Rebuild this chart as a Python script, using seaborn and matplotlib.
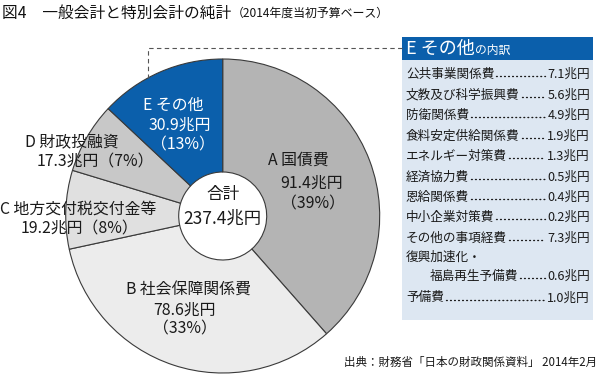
import matplotlib
matplotlib.use("Agg")
import matplotlib.pyplot as plt
import seaborn as sns
from matplotlib.patches import Rectangle

# data
letters = ["A", "B", "C", "D", "E"]
categories = ["国債費", "社会保障関係費", "地方交付税交付金等", "財政投融資", "その他"]
amounts = [91.4, 78.6, 19.2, 17.3, 30.9]
shares = [39, 33, 8, 7, 13]
total = 237.4

other_items = ["公共事業関係費", "文教及び科学振興費", "防衛関係費", "食料安定供給関係費",
               "エネルギー対策費", "経済協力費", "恩給関係費", "中小企業対策費",
               "その他の事項経費", "福島再生予備費", "予備費"]
other_values = [7.1, 5.6, 4.9, 1.9, 1.3, 0.5, 0.4, 0.2, 7.3, 0.6, 1.0]

sns.set_theme(style="white")
plt.rcParams["font.family"] = ["Noto Sans CJK JP", "DejaVu Sans"]

W, H = 600, 377
fig = plt.figure(figsize=(6, 3.77), dpi=100)
ax = fig.add_axes([0, 0, 1, 1])

def Y(y):
    return H - y

colors = ["#b4b4b4", "#ececec", "#e0e0e0", "#c8c8c8", "#0b5fab"]
cx, cy, r, r_in = 222.7, 216, 157, 44
ax.pie(amounts, colors=colors, startangle=90, counterclock=False,
       radius=r, center=(cx, Y(cy)),
       wedgeprops=dict(width=r - r_in, edgecolor="#3a3a3a", linewidth=0.8))
ax.set_xlim(0, W)
ax.set_ylim(0, H)
ax.set_aspect("equal")
ax.axis("off")

txt = "#1a1a1a"
fs = 11.4
# wedge labels
ax.text(298, Y(160), f"{letters[0]} {categories[0]}", ha="center", va="center", fontsize=fs, color=txt)
ax.text(312, Y(183), f"{amounts[0]}兆円", ha="center", va="center", fontsize=fs, color=txt)
ax.text(313, Y(204), f"（{shares[0]}%）", ha="center", va="center", fontsize=fs, color=txt)

ax.text(188, Y(290), f"{letters[1]} {categories[1]}", ha="center", va="center", fontsize=fs, color=txt)
ax.text(185, Y(310), f"{amounts[1]}兆円", ha="center", va="center", fontsize=fs, color=txt)
ax.text(185, Y(329), f"（{shares[1]}%）", ha="center", va="center", fontsize=fs, color=txt)

ax.text(78, Y(209), f"{letters[2]} {categories[2]}", ha="center", va="center", fontsize=fs, color=txt)
ax.text(79, Y(229), f"{amounts[2]}兆円（{shares[2]}%）", ha="center", va="center", fontsize=fs, color=txt)

ax.text(72, Y(142), f"{letters[3]} {categories[3]}", ha="center", va="center", fontsize=fs, color=txt)
ax.text(95, Y(162), f"{amounts[3]}兆円（{shares[3]}%）", ha="center", va="center", fontsize=fs, color=txt)

ax.text(173, Y(105), f"{letters[4]} {categories[4]}", ha="center", va="center", fontsize=fs, color="white")
ax.text(180, Y(125), f"{amounts[4]}兆円", ha="center", va="center", fontsize=fs, color="white")
ax.text(183, Y(145), f"（{shares[4]}%）", ha="center", va="center", fontsize=fs, color="white")

ax.text(cx, Y(194), "合計", ha="center", va="center", fontsize=12, color=txt)
ax.text(cx, Y(219), f"{total}兆円", ha="center", va="center", fontsize=12.5, color=txt)

# dashed connector
ax.plot([402, 148, 148], [Y(48), Y(48), Y(78)], color="#555555", lw=0.8, ls=(0, (4, 3)))

# breakdown box
bx0, bx1 = 402, 593
ax.add_patch(Rectangle((bx0, Y(320)), bx1 - bx0, 320 - 60, color="#dde7f2", lw=0))
ax.add_patch(Rectangle((bx0, Y(60)), bx1 - bx0, 23, color="#0b5fab", lw=0))
ax.text(406, Y(48.5), "E その他", ha="left", va="center", fontsize=13, color="white")
ax.text(475, Y(50), "の内訳", ha="left", va="center", fontsize=8.5, color="white")

row_y = [74, 95, 115, 136, 156, 177, 197, 217, 238, 276, 298]
ifs = 9.1
fig.canvas.draw()
rend = fig.canvas.get_renderer()
inv = ax.transData.inverted()
for name, val, yy in zip(other_items, other_values, row_y):
    lx = 406
    if name == "福島再生予備費":
        ax.text(lx, Y(257), "復興加速化・", ha="left", va="center", fontsize=ifs, color=txt)
        lx = 430
    t1 = ax.text(lx, Y(yy), name, ha="left", va="center", fontsize=ifs, color=txt)
    t2 = ax.text(590, Y(yy), f"{val}兆円", ha="right", va="center", fontsize=ifs, color=txt)
    e1 = inv.transform(t1.get_window_extent(rend))
    e2 = inv.transform(t2.get_window_extent(rend))
    ax.plot([e1[1][0] + 2, e2[0][0] - 2], [Y(yy) - 1.5, Y(yy) - 1.5], color=txt,
            lw=1.0, ls=(0, (0.6, 2.3)), dash_capstyle="round")

# title and source
ax.text(2, Y(13), "図4　一般会計と特別会計の純計", ha="left", va="center", fontsize=11.3, color="#111111")
ax.text(232, Y(13.5), "（2014年度当初予算ベース）", ha="left", va="center", fontsize=8.6, color="#111111")
ax.text(597, Y(362), "出典：財務省「日本の財政関係資料」 2014年2月", ha="right", va="center", fontsize=8.3, color=txt)

fig.savefig("out.png", dpi=100)
